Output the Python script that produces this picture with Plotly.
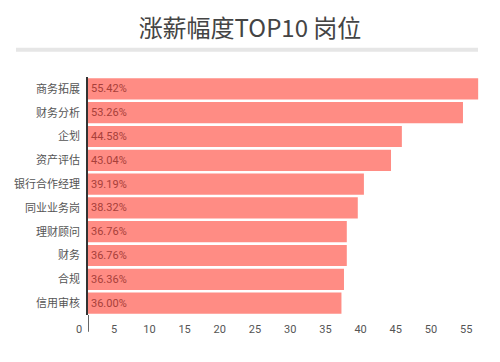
import plotly.graph_objects as go

categories = ["商务拓展", "财务分析", "企划", "资产评估", "银行合作经理",
              "同业业务岗", "理财顾问", "财务", "合规", "信用审核"]
values = [55.42, 53.26, 44.58, 43.04, 39.19, 38.32, 36.76, 36.76, 36.36, 36.00]
labels = [f"{v:.2f}%" for v in values]
x_ticks = [0, 5, 10, 15, 20, 25, 30, 35, 40, 45, 50, 55]
title = "涨薪幅度TOP10 岗位"

FONT = "Roboto, 'Noto Sans CJK SC', sans-serif"

fig = go.Figure(go.Bar(
    x=values, y=categories, orientation="h",
    marker=dict(color="#FF8C84", line=dict(width=0)),
    text=labels, textposition="inside", insidetextanchor="start",
    textfont=dict(color="#A8403A", size=11, family=FONT),
    cliponaxis=False,
))

PLOT_H = 238.6
PLOT_W = 402
fig.update_layout(
    width=500, height=362,
    margin=dict(l=88, r=10, t=77, b=47),
    paper_bgcolor="white", plot_bgcolor="white",
    bargap=0.11,
    showlegend=False,
    font=dict(family=FONT, color="#555555", size=11),
    title=dict(text=title, x=0.5, xanchor="center", y=0.922, yanchor="middle",
               font=dict(size=24, color="#444444", family="'Noto Sans CJK SC', Roboto, sans-serif")),
    xaxis=dict(range=[0, 57.1], tickvals=x_ticks, showgrid=False, zeroline=False,
               showline=False, ticks="", ticklabelshift=-9, ticklabelstandoff=6,
               tickfont=dict(size=11, color="#555555")),
    yaxis=dict(autorange="reversed", showgrid=False, zeroline=False,
               showline=True, linecolor="#333333", linewidth=1.5, ticks="",
               ticklabelstandoff=4,
               tickfont=dict(size=11, color="#555555")),
    shapes=[
        dict(type="line", xref="paper", yref="paper",
             x0=(16 - 88) / PLOT_W, x1=(478 - 88) / PLOT_W,
             y0=(315.3 - 49.5) / PLOT_H, y1=(315.3 - 49.5) / PLOT_H,
             line=dict(color="#E6E6E6", width=4)),
        dict(type="line", xref="x", yref="paper", x0=0, x1=0,
             y0=-0.07, y1=0,
             line=dict(color="#333333", width=1.5)),
    ],
)

fig.write_html("out.html", config={"displayModeBar": False},
               post_script="document.body.style.margin='0';")
